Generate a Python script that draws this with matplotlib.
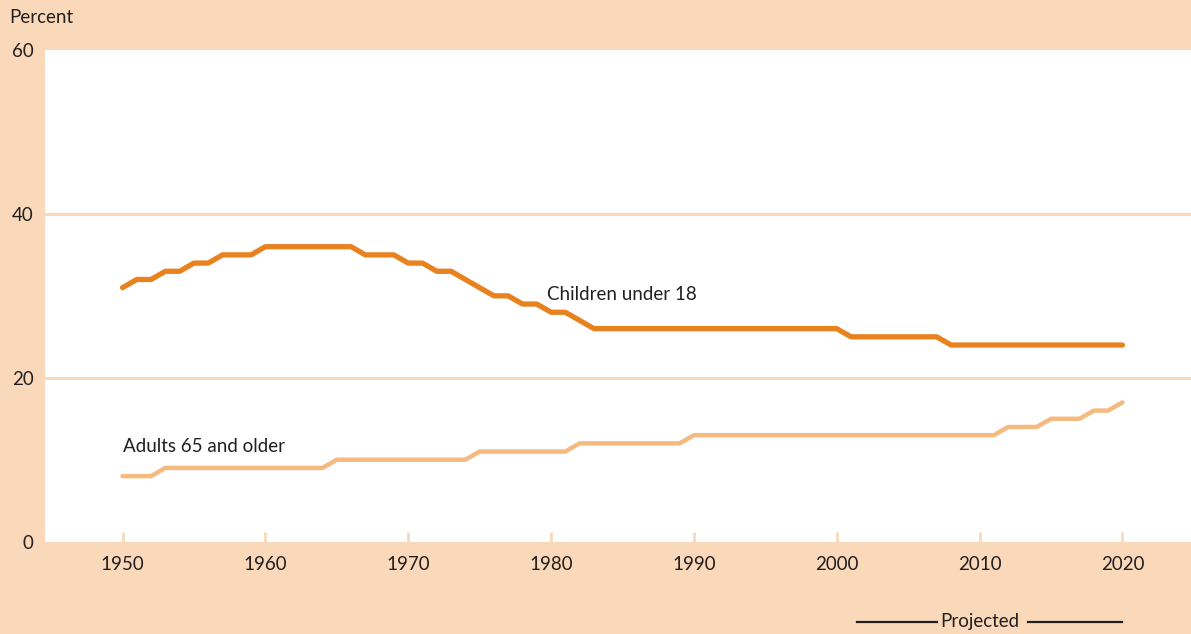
"""Children and older adults as a share of the population, 1950-2020."""
import matplotlib
matplotlib.use("Agg")
import matplotlib.pyplot as plt
import matplotlib.transforms as mtransforms

# ── data (percent of total population) ─────────────────────────────
YEARS = list(range(1950, 2021))

CHILDREN = (
    [31, 32, 32, 33, 33, 34, 34, 35, 35, 35]          # 1950-1959
    + [36, 36, 36, 36, 36, 36, 36, 35, 35, 35]        # 1960-1969
    + [34, 34, 33, 33, 32, 31, 30, 30, 29, 29]        # 1970-1979
    + [28, 28, 27, 26, 26, 26, 26, 26, 26, 26]        # 1980-1989
    + [26, 26, 26, 26, 26, 26, 26, 26, 26, 26]        # 1990-1999
    + [26, 25, 25, 25, 25, 25, 25, 25, 24, 24]        # 2000-2009
    + [24, 24, 24, 24, 24, 24, 24, 24, 24, 24, 24]    # 2010-2020
)
ADULTS_65 = (
    [8, 8, 8, 9, 9, 9, 9, 9, 9, 9]                    # 1950-1959
    + [9, 9, 9, 9, 9, 10, 10, 10, 10, 10]             # 1960-1969
    + [10, 10, 10, 10, 10, 11, 11, 11, 11, 11]        # 1970-1979
    + [11, 11, 12, 12, 12, 12, 12, 12, 12, 12]        # 1980-1989
    + [13, 13, 13, 13, 13, 13, 13, 13, 13, 13]        # 1990-1999
    + [13, 13, 13, 13, 13, 13, 13, 13, 13, 13]        # 2000-2009
    + [13, 13, 14, 14, 14, 15, 15, 15, 16, 16, 17]    # 2010-2020
)
X_TICKS = [1950, 1960, 1970, 1980, 1990, 2000, 2010, 2020]
Y_TICKS = [0, 20, 40, 60]
PROJECTED_FROM, PROJECTED_TO = 2001.4, 2020

# ── style ──────────────────────────────────────────────────────────
BG = "#FAD9BA"
DARK_ORANGE = "#E8821E"
LIGHT_ORANGE = "#F4BA80"
INK = "#231F20"
plt.rcParams["font.family"] = ["Lato", "DejaVu Sans"]

fig = plt.figure(figsize=(11.91, 6.34), dpi=100, facecolor=BG)
ax = fig.add_axes([0.0375, 0.1456, 0.9625, 0.7755])
ax.set_facecolor("white")

ax.plot(YEARS, CHILDREN, color=DARK_ORANGE, lw=3.8,
        solid_capstyle="round", solid_joinstyle="round", zorder=3)
ax.plot(YEARS, ADULTS_65, color=LIGHT_ORANGE, lw=3.2,
        solid_capstyle="round", solid_joinstyle="round", zorder=3)

ax.text(1979.7, 30.2, "Children under 18", fontsize=13.5, color=INK,
        va="center", ha="left")
ax.text(1950, 11.6, "Adults 65 and older", fontsize=13.5, color=INK,
        va="center", ha="left")

ax.set_xlim(1944.55, 2024.8)
ax.set_ylim(0, 60)
ax.set_xticks(X_TICKS)
ax.set_yticks(Y_TICKS)
ax.tick_params(axis="x", direction="in", length=7.5, width=2, color=BG,
               pad=10, labelsize=13.5, labelcolor=INK)
ax.tick_params(axis="y", length=0, pad=8, labelsize=13.5, labelcolor=INK)
for yv in (20, 40):
    ax.axhline(yv, color=BG, lw=2.2, zorder=1)
for side in ax.spines.values():
    side.set_visible(False)

fig.text(0.0075, 0.973, "Percent", fontsize=13.5, color=INK, va="center", ha="left")

# "Projected" bracket under the axis
trans = mtransforms.blended_transform_factory(ax.transData, ax.transAxes)
label_x = 2010.0
ax.plot([PROJECTED_FROM, 2007.0], [-0.163, -0.163], color=INK, lw=1.6,
        transform=trans, clip_on=False)
ax.plot([2013.4, PROJECTED_TO], [-0.163, -0.163], color=INK, lw=1.6,
        transform=trans, clip_on=False)
ax.text(label_x, -0.163, "Projected", transform=trans, fontsize=13.5, color=INK,
        ha="center", va="center")

fig.savefig("out.png", dpi=100, facecolor=BG)
